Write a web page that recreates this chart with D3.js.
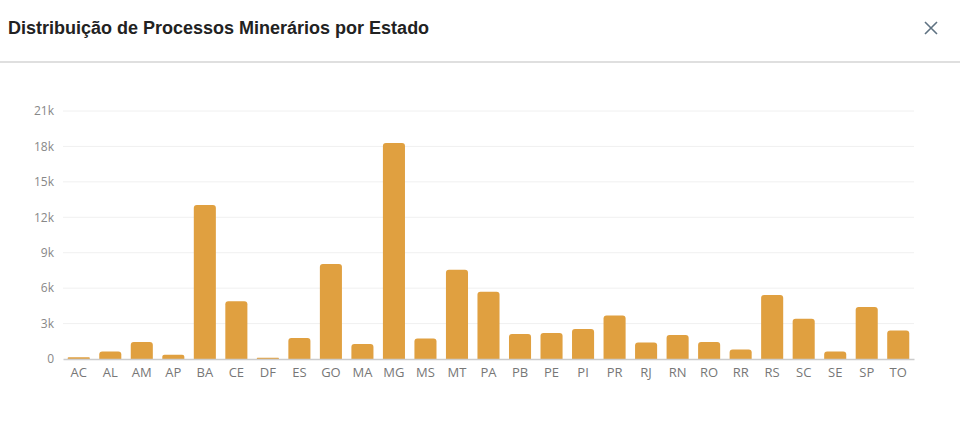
<!DOCTYPE html>
<head>
  <meta charset="utf-8">
  <script src="https://d3js.org/d3.v7.min.js"></script>
  <style>
    body { margin:0; background:#fff; }
    .grid line { stroke:#f0f0f0; }
    .bar { fill:#e0a040; }
  </style>
</head>
<body>
  <script>
    // estados e numero de processos
    var estados = ['AC','AL','AM','AP','BA','CE','DF','ES','GO','MA','MG','MS','MT','PA',
                   'PB','PE','PI','PR','RJ','RN','RO','RR','RS','SC','SE','SP','TO'];
    var processos = [150, 640, 1440, 360, 13040, 4880, 100, 1780, 8040, 1270, 18290, 1745, 7560, 5700,
                     2115, 2200, 2540, 3690, 1400, 2030, 1440, 810, 5420, 3410, 640, 4400, 2420];
    var yTicks = [0, 3000, 6000, 9000, 12000, 15000, 18000, 21000];
    var titulo = 'Distribuição de Processos Minerários por Estado';

    var width = 960, height = 421;
    var margin = {top: 111, left: 63, right: 46, bottom: 62};

    var svg = d3.select('body').append('svg')
      .attr('width', width)
      .attr('height', height);

    // cabecalho do modal
    svg.append('text')
      .attr('x', 8).attr('y', 34)
      .style('font-family', 'Liberation Sans, Arial, sans-serif')
      .style('font-size', '18px')
      .style('font-weight', 'bold')
      .style('fill', '#222')
      .text(titulo);

    svg.append('line')
      .attr('x1', 0).attr('x2', width)
      .attr('y1', 62).attr('y2', 62)
      .style('stroke', '#d4d4d4').style('stroke-width', 1.5);

    svg.append('path')
      .attr('d', 'M925,22L937,34M937,22L925,34')
      .style('stroke', '#5f7282').style('stroke-width', 1.6).style('fill', 'none');

    var x = d3.scaleBand()
      .domain(estados)
      .range([margin.left, width - margin.right])
      .paddingInner(0.3)
      .paddingOuter(0.15);

    var y = d3.scaleLinear()
      .domain([0, 21000])
      .range([height - margin.bottom, margin.top]);

    svg.append('g')
      .attr('class', 'grid')
      .selectAll('line')
      .data(yTicks.slice(1))
      .enter().append('line')
      .attr('x1', margin.left).attr('x2', width - margin.right)
      .attr('y1', function(d) { return y(d); })
      .attr('y2', function(d) { return y(d); });

    var yAxis = svg.append('g')
      .attr('transform', 'translate(' + (margin.left - 6) + ',0)')
      .call(d3.axisLeft(y).tickValues(yTicks).tickSize(0)
        .tickFormat(function(d) { return d === 0 ? '0' : (d / 1000) + 'k'; }));
    yAxis.select('.domain').remove();
    yAxis.selectAll('text')
      .style('font-family', 'Open Sans, sans-serif')
      .style('font-size', '12px')
      .style('fill', '#888');

    // barras com cantos superiores arredondados
    var r = 3;
    svg.selectAll('.bar')
      .data(processos)
      .enter().append('path')
      .attr('class', 'bar')
      .attr('d', function(d, i) {
        var x0 = x(estados[i]), w = x.bandwidth();
        var y0 = y(d), y1 = y(0);
        var rr = Math.min(r, (y1 - y0) / 2);
        return 'M' + x0 + ',' + y1 +
          'V' + (y0 + rr) +
          'Q' + x0 + ',' + y0 + ' ' + (x0 + rr) + ',' + y0 +
          'H' + (x0 + w - rr) +
          'Q' + (x0 + w) + ',' + y0 + ' ' + (x0 + w) + ',' + (y0 + rr) +
          'V' + y1 + 'Z';
      });

    var xAxis = svg.append('g')
      .attr('transform', 'translate(0,' + y(0) + ')')
      .call(d3.axisBottom(x).tickSize(0).tickPadding(9));
    xAxis.select('.domain')
      .style('stroke', '#ccc').style('stroke-width', 1.5);
    xAxis.selectAll('text')
      .style('font-family', 'Open Sans, sans-serif')
      .style('font-size', '13px')
      .style('fill', '#777');
  </script>
</body>
